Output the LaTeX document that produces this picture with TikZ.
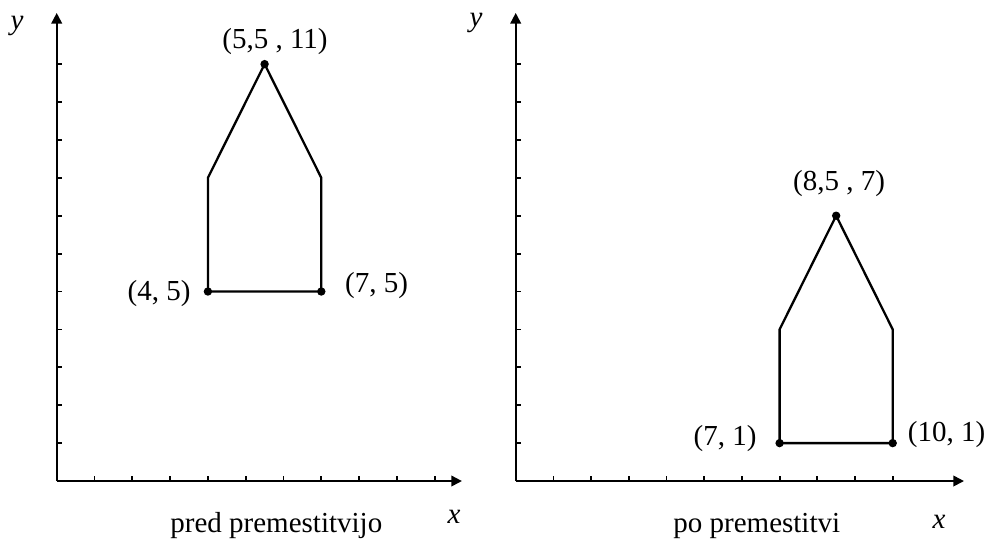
\documentclass[tikz,border=0pt]{standalone}
\usepackage{fontspec}
\setmainfont{Liberation Serif}
\usetikzlibrary{arrows.meta}
\begin{document}
\begin{tikzpicture}[x=0.5pt,y=-0.5pt,
  axis/.style={line width=0.9pt,-{Triangle[length=5.3pt,width=5.3pt]}},
  tickline/.style={line width=0.9pt},
  houseline/.style={line width=1.15pt,line join=miter},
  dot/.style={circle,fill=black,inner sep=0pt,minimum size=4.2pt},
  lab/.style={inner sep=0pt,font=\fontsize{14.5}{17}\selectfont},
  axlab/.style={inner sep=0pt,font=\fontsize{14.5}{17}\selectfont\itshape}]
\useasboundingbox (0,0) rectangle (988,538);
% ---------- left panel ----------
\begin{scope}[shift={(56.7,481)},x={(18.9pt,0pt)},y={(0pt,18.95pt)}]
  \coordinate (O1) at (0,0);
  \coordinate (X1) at (10.72,0);
  \coordinate (Y1) at (0,12.35);
  \draw[axis] (O1) -- (X1);
  \draw[axis] (O1) -- (Y1);
  \foreach \k in {1,...,10} \draw[tickline] (\k,0) -- ++(0pt,2.4pt);
  \foreach \k in {1,...,11} \draw[tickline] (0,\k) -- ++(2.4pt,0pt);
  \coordinate (A1) at (4,5);
  \coordinate (B1) at (7,5);
  \coordinate (C1) at (7,8);
  \coordinate (D1) at (5.5,11);
  \coordinate (E1) at (4,8);
  \draw[houseline] (A1) -- (B1) -- (C1) -- (D1) -- (E1) -- cycle;
  \node[dot] (dA1) at (A1) {};
  \node[dot] (dB1) at (B1) {};
  \node[dot] (dD1) at (D1) {};
\end{scope}
\node[lab] (lA1) at (159,293.5) {(4, 5)};
\node[lab] (lB1) at (376.5,285.5) {(7, 5)};
\node[lab] (lD1) at (275,41.5) {(5,5 , 11)};
\node[axlab,anchor=base] (ly1) at (17,29) {y};
\node[axlab,anchor=base] (lx1) at (454,523) {x};
\node[lab,anchor=base west] (cap1) at (170,532) {pred premestitvijo};
% ---------- right panel ----------
\begin{scope}[shift={(515.7,481)},x={(18.85pt,0pt)},y={(0pt,18.95pt)}]
  \coordinate (O2) at (0,0);
  \coordinate (X2) at (11.89,0);
  \coordinate (Y2) at (0,12.35);
  \draw[axis] (O2) -- (X2);
  \draw[axis] (O2) -- (Y2);
  \foreach \k in {1,...,10} \draw[tickline] (\k,0) -- ++(0pt,2.4pt);
  \foreach \k in {1,...,11} \draw[tickline] (0,\k) -- ++(2.4pt,0pt);
  \coordinate (A2) at (7,1);
  \coordinate (B2) at (10,1);
  \coordinate (C2) at (10,4);
  \coordinate (D2) at (8.5,7);
  \coordinate (E2) at (7,4);
  \draw[houseline] (A2) -- (B2) -- (C2) -- (D2) -- (E2) -- cycle;
  \node[dot] (dA2) at (A2) {};
  \node[dot] (dB2) at (B2) {};
  \node[dot] (dD2) at (D2) {};
\end{scope}
\node[lab] (lA2) at (725,439) {(7, 1)};
\node[lab] (lB2) at (946.5,435) {(10, 1)};
\node[lab] (lD2) at (839,184) {(8,5 , 7)};
\node[axlab,anchor=base] (ly2) at (476,26) {y};
\node[axlab,anchor=base] (lx2) at (939,528) {x};
\node[lab,anchor=base west] (cap2) at (673,532) {po premestitvi};
\end{tikzpicture}
\end{document}
